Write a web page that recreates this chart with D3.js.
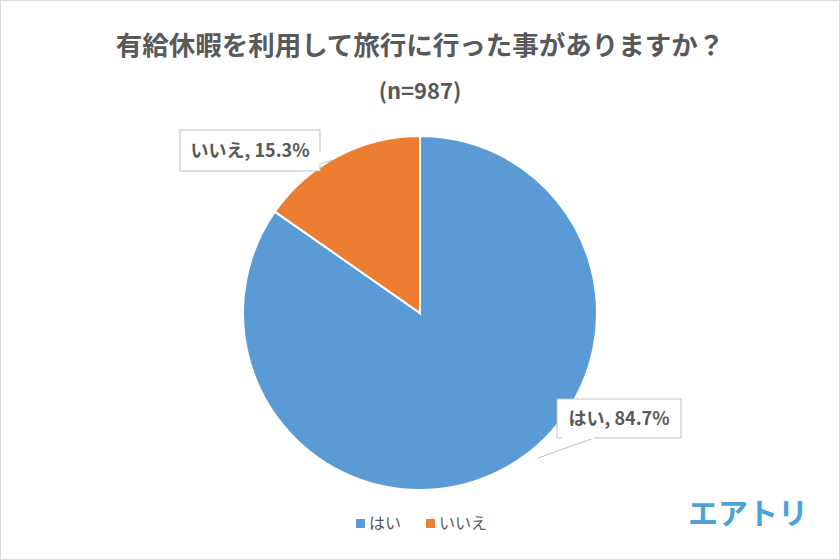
<!DOCTYPE html>
<html><head><meta charset="utf-8">
<script src="https://cdn.jsdelivr.net/npm/d3@7"></script>
<style>body{margin:0;background:#fff}text{font-family:"Noto Sans CJK JP","Noto Sans",sans-serif}</style>
</head><body><svg id="c" width="840" height="560"></svg>
<script>
const categories=["はい","いいえ"];
const values=[84.7,15.3];
const colors=["#5B9BD5","#ED7D31"];
const title="有給休暇を利用して旅行に行った事がありますか？";
const subtitle="(n=987)";
const svg=d3.select("#c");
svg.append("rect").attr("x",0.5).attr("y",0.5).attr("width",839).attr("height",559).attr("fill","#fff").attr("stroke","#d9d9d9");
svg.append("text").attr("x",420).attr("y",55).attr("text-anchor","middle").attr("font-size",26.5).attr("font-weight","bold").attr("fill","#595959").text(title);
svg.append("text").attr("x",420).attr("y",99).attr("text-anchor","middle").attr("font-size",22).attr("font-weight","bold").attr("fill","#595959").text(subtitle);
const cx=420,cy=313,r=177;
const pie=d3.pie().sort(null).value(d=>d)(values);
const arc=d3.arc().innerRadius(0).outerRadius(r);
const g=svg.append("g").attr("transform",`translate(${cx},${cy})`);
g.selectAll("path").data(pie).join("path").attr("d",arc).attr("fill",(d,i)=>colors[i]).attr("stroke","#fff").attr("stroke-width",2);
const boxes=[{x:557,y:399,w:124,h:39,ptr:[[562,438],[594,438],[538,458]]},{x:180,y:130,w:140,h:41,ptr:[[320,152],[320,164],[333,160]]}];
boxes.forEach((b,i)=>{
  svg.append("path").attr("d",d3.line()(b.ptr)).attr("fill","#fff").attr("stroke","#bfbfbf");
  svg.append("rect").attr("x",b.x).attr("y",b.y).attr("width",b.w).attr("height",b.h).attr("fill","#fff").attr("stroke","#bfbfbf");
  svg.append("path").attr("d",`M${b.ptr[0][0]},${b.ptr[0][1]}L${b.ptr[1][0]},${b.ptr[1][1]}`).attr("stroke","#fff").attr("stroke-width",2);
  svg.append("text").attr("x",b.x+b.w/2).attr("y",b.y+b.h/2+6).attr("text-anchor","middle").attr("font-size",18).attr("font-weight","bold").attr("fill","#595959").text(`${categories[i]}, ${values[i]}%`);
});
const lx=[356,426];
categories.forEach((c,i)=>{
  svg.append("rect").attr("x",lx[i]).attr("y",519).attr("width",9).attr("height",9).attr("fill",colors[i]);
  svg.append("text").attr("x",lx[i]+13).attr("y",529).attr("font-size",16).attr("fill","#595959").text(c);
});
svg.append("text").attr("x",748).attr("y",524).attr("text-anchor","middle").attr("font-size",30).attr("font-weight","bold").attr("fill","#4BA3D9").text("エアトリ");
</script></body></html>
